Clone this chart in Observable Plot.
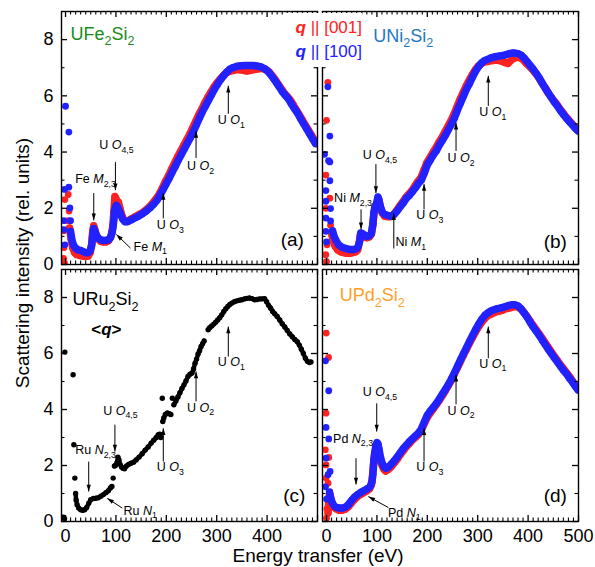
<!DOCTYPE html>
<html><head><meta charset="utf-8">
<script src="https://cdn.jsdelivr.net/npm/d3@7"></script>
<script src="https://cdn.jsdelivr.net/npm/@observablehq/plot@0.6"></script>
<style>
body{margin:0;background:#fff;font-family:"Liberation Sans",Arial,Helvetica,sans-serif}
#chart{position:relative;width:595px;height:567px;overflow:hidden;background:#fff}
#chart svg{position:absolute;left:0;top:0}
#legend{position:absolute;left:284px;top:13px;width:78px;padding:3px 0 3px 0;background:#fff;font-size:17px;line-height:24px;text-align:right;white-space:nowrap}
#ytitle{position:absolute;left:22px;top:263px;transform:translate(-50%,-50%) rotate(-90deg);font-size:19px;line-height:1;white-space:nowrap}
#xtitle{position:absolute;left:318px;top:546px;transform:translateX(-50%);font-size:19px;line-height:1;white-space:nowrap}
</style></head><body><div id="chart">
<div id="legend"><div style="color:#ff2222"><b><i>q</i></b> || [001]</div><div style="color:#2222ff"><b><i>q</i></b> || [100]</div></div>
<div id="ytitle">Scattering intensity (rel. units)</div>
<div id="xtitle">Energy transfer (eV)</div>
</div>
<script>
// ---------- axes ----------
const xDomain = [-8, 500];
const yDomain = [0, 9];
const xTickLabels = [0, 100, 200, 300, 400, 500];
const xTickLabelsC = [0, 100, 200, 300, 400];
const yTickLabels = [0, 2, 4, 6, 8];
const yMinorTicks = [1, 3, 5, 7];

// ---------- (a) UFe2Si2 ----------
const feBlueElastic = [[0,5.63],[6.6,4.71],[-2,2.67],[6.6,2.75],[8.6,2.01],[-3.3,1.56],[10,1.56],[-3.3,1.24],[-1.3,0.7]];
const feRedElastic = [[5.3,2.49],[-1.3,2.31],[5.3,1.56],[7,1.9],[-3.3,1.2],[9,1.25],[-3.3,0.6],[-4,0.22],[-2,0.05]];
const feBlue = [[10,1.18],[13,0.85],[16,0.68],[20,0.58],[25,0.52],[30,0.5],[35,0.46],[40,0.42],[45,0.42],[49,0.5],[52,0.68],[54,1.05],[56,1.28],[58,1.2],[61,1.05],[65,0.94],[70,0.88],[75,0.85],[80,0.86],[85,0.88],[89,0.95],[92,1.1],[94,1.3],[96,1.6],[97,1.9],[99,2.05],[101,2.1],[104,2.02],[107,1.9],[110,1.75],[114,1.6],[118,1.52],[122,1.52],[126,1.55],[132,1.6],[138,1.66],[145,1.72],[152,1.8],[160,1.9],[168,2.02],[175,2.15],[182,2.3],[188,2.48],[194,2.68],[200,2.88],[206,3.08],[212,3.3],[218,3.5],[224,3.72],[230,3.92],[236,4.12],[242,4.32],[248,4.52],[254,4.74],[260,4.98],[266,5.22],[272,5.45],[278,5.65],[284,5.85],[290,6.05],[296,6.25],[302,6.42],[308,6.58],[314,6.72],[320,6.85],[326,6.95],[332,7.0],[340,7.05],[348,7.07],[356,7.08],[364,7.08],[372,7.08],[380,7.06],[388,7.03],[394,6.98],[400,6.9],[406,6.78],[412,6.63],[418,6.48],[424,6.32],[430,6.15],[436,6.02],[442,5.9],[448,5.72],[454,5.55],[460,5.4],[466,5.2],[472,5.02],[478,4.84],[484,4.66],[490,4.48],[496,4.3]];
const feRed = [[8,1.3],[11,0.9],[14,0.6],[18,0.42],[22,0.35],[28,0.32],[34,0.3],[40,0.28],[45,0.3],[49,0.42],[52,0.75],[54,1.2],[56,1.38],[58,1.25],[61,1.05],[65,0.9],[70,0.82],[75,0.8],[80,0.8],[85,0.84],[89,0.95],[92,1.15],[94,1.4],[96,1.9],[98,2.42],[100,2.35],[102,2.25],[105,2.22],[108,2.0],[111,1.8],[115,1.6],[119,1.55],[124,1.55],[130,1.62],[138,1.7],[146,1.78],[154,1.86],[162,1.98],[170,2.12],[178,2.3],[186,2.5],[192,2.72],[198,2.95],[204,3.15],[210,3.38],[216,3.6],[222,3.82],[228,4.02],[234,4.22],[240,4.42],[246,4.62],[252,4.85],[258,5.08],[264,5.32],[270,5.52],[276,5.74],[282,5.94],[288,6.12],[294,6.3],[300,6.45],[306,6.58],[312,6.7],[318,6.8],[324,6.86],[332,6.9],[340,6.93],[350,6.92],[360,6.88],[370,6.92],[380,6.95],[390,6.98],[398,6.92],[404,6.85],[410,6.72],[416,6.58],[422,6.42],[428,6.25],[434,6.1],[440,5.98],[446,5.85],[452,5.68],[458,5.5],[464,5.32],[470,5.14],[476,4.95],[482,4.78],[488,4.6],[494,4.42],[498,4.3]];

// ---------- (b) UNi2Si2 ----------
const niBlueElastic = [[2.6,6.32],[6.6,4.57],[-4,3.92],[6.6,3.65],[4,3.69],[-1.3,2.63],[6.6,2.98],[-1.3,2.25],[8,1.99],[-1.3,1.65],[8,1.55],[-1.3,1.18],[0,0.8]];
const niRedElastic = [[1,9.3],[2.6,6.48],[0,5.13],[-1.3,3.18],[6.6,2.36],[-1.3,2.0],[8,1.4],[1,0.7],[-1.5,0.35],[0,0.1]];
const niBlue = [[12,1.2],[15,1.0],[19,0.85],[24,0.7],[30,0.62],[36,0.58],[42,0.55],[48,0.53],[54,0.53],[60,0.57],[63,0.65],[66,0.85],[68,1.12],[71,1.1],[75,1.05],[80,1.0],[85,1.02],[89,1.1],[92,1.45],[94,1.85],[96,2.05],[99,2.15],[102,2.4],[104,2.3],[107,2.05],[111,1.85],[116,1.78],[122,1.74],[128,1.72],[134,1.78],[140,1.9],[146,2.05],[152,2.18],[158,2.35],[164,2.45],[170,2.58],[176,2.72],[182,2.88],[188,3.0],[194,3.25],[200,3.55],[206,3.72],[212,3.9],[218,4.05],[224,4.25],[230,4.42],[236,4.6],[242,4.8],[248,5.0],[254,5.22],[260,5.5],[266,5.75],[272,6.0],[278,6.25],[284,6.45],[290,6.68],[296,6.88],[302,7.05],[308,7.18],[314,7.26],[320,7.3],[326,7.35],[332,7.38],[338,7.4],[344,7.42],[350,7.44],[356,7.46],[362,7.5],[368,7.52],[374,7.52],[380,7.5],[386,7.45],[392,7.35],[398,7.22],[404,7.08],[410,6.95],[416,6.8],[422,6.64],[428,6.45],[434,6.28],[440,6.1],[446,5.94],[452,5.78],[458,5.64],[464,5.48],[470,5.34],[476,5.2],[482,5.08],[488,4.96],[494,4.84],[499,4.75]];
const niRed = [[10,1.1],[13,0.85],[17,0.65],[22,0.52],[28,0.45],[34,0.42],[40,0.4],[46,0.4],[52,0.42],[58,0.45],[62,0.52],[65,0.8],[67,1.05],[70,1.05],[75,0.98],[80,0.95],[85,0.98],[89,1.08],[92,1.4],[94,1.8],[97,2.1],[100,2.2],[103,2.35],[106,2.1],[110,1.85],[115,1.72],[121,1.7],[127,1.7],[133,1.78],[139,1.92],[145,2.08],[151,2.22],[157,2.38],[163,2.5],[169,2.62],[175,2.78],[181,2.95],[187,3.08],[193,3.35],[199,3.62],[205,3.8],[211,3.98],[217,4.15],[223,4.35],[229,4.52],[235,4.72],[241,4.92],[247,5.12],[253,5.35],[259,5.62],[265,5.88],[271,6.12],[277,6.35],[283,6.55],[289,6.75],[295,6.92],[301,7.06],[307,7.14],[313,7.2],[320,7.22],[328,7.25],[336,7.27],[344,7.25],[352,7.2],[360,7.15],[368,7.3],[376,7.36],[384,7.36],[390,7.28],[396,7.16],[402,7.06],[408,6.95],[414,6.82],[420,6.68],[426,6.5],[432,6.33],[438,6.16],[444,6.0],[450,5.85],[456,5.72],[462,5.56],[468,5.42],[474,5.28],[480,5.15],[486,5.03],[492,4.9],[498,4.8]];

// ---------- (c) URu2Si2 ----------
const ruIsolated = [[-1.3,6.05],[15,5.24],[16.5,2.74],[18.5,1.55],[-4,0.15],[-2,0.1],[94.5,1.55],[192,4.4],[212,4.4]];
const ruSeg1 = [[20,1.0],[21,0.77],[23,0.6],[26,0.48],[30,0.42],[34,0.4],[38,0.42],[42,0.5],[46,0.65],[50,0.78],[55,0.82],[60,0.83],[65,0.85],[70,0.9],[75,0.96],[80,1.03],[85,1.1],[89,1.2],[92,1.25]];
const ruSeg2 = [[97,1.98],[99,2.0],[102,2.1],[104,2.3],[106,2.2],[108,2.05],[111,1.95],[114,1.9],[117,1.88],[121,1.98],[125,2.04],[130,2.08],[135,2.12],[140,2.2],[146,2.3],[152,2.42],[158,2.55],[164,2.66],[170,2.8],[175,2.9],[180,3.0],[184,3.1],[187,3.12],[189,3.0]];
const ruSeg3 = [[193,3.57],[195,3.7],[198,3.82],[202,3.88],[206,3.85],[209,3.82]];
const ruSeg4 = [[215,4.17],[219,4.3],[223,4.45],[227,4.6],[231,4.75],[235,4.88],[239,5.02],[243,5.18],[247,5.26],[251,5.3],[254,5.45],[257,5.65],[260,5.8],[263,5.98],[266,6.1],[269,6.25],[272,6.35],[275,6.45]];
const ruSeg5 = [[283,6.85],[286,6.92],[290,6.98],[294,7.05],[298,7.12],[302,7.2],[306,7.28],[310,7.38],[314,7.5],[318,7.6],[322,7.68],[326,7.75],[330,7.8],[335,7.85],[340,7.88],[345,7.9],[350,7.92],[355,7.95],[360,7.97],[365,7.98],[370,7.96],[375,7.92],[380,7.93],[385,7.95],[390,7.95],[395,7.96],[399,7.85],[403,7.72],[407,7.62],[411,7.5],[415,7.42],[420,7.32],[425,7.2],[430,7.06],[435,6.95],[440,6.82],[445,6.7],[450,6.6],[455,6.5],[460,6.42],[464,6.3],[468,6.15],[472,6.0],[476,5.83],[480,5.72],[484,5.68],[487,5.7]];

// ---------- (d) UPd2Si2 ----------
const pdBlueElastic = [[4.4,4.67],[-2,5.74],[-1,3.36],[4.4,2.95],[-1,2.26],[7,1.79],[-2,1.24],[3,1.67],[0,0.8]];
const pdRedElastic = [[-0.6,6.73],[4,5.86],[-1,3.87],[-2.4,2.56],[4.4,2.29],[-1,2.02],[-1,1.55],[3,1.37],[0,0.12],[1,0.45]];
const pdBlue = [[6,1.05],[8,0.85],[11,0.68],[15,0.56],[20,0.5],[26,0.48],[32,0.48],[38,0.52],[44,0.62],[50,0.76],[56,0.88],[62,0.97],[68,1.04],[74,1.1],[80,1.16],[86,1.24],[90,1.4],[92,1.7],[94,2.2],[96,2.5],[98,2.7],[100,2.82],[102,2.78],[104,2.6],[107,2.3],[110,2.1],[114,1.95],[118,1.9],[123,1.95],[128,2.04],[134,2.16],[140,2.3],[146,2.45],[152,2.6],[158,2.72],[164,2.84],[170,2.95],[176,3.05],[182,3.15],[188,3.3],[194,3.55],[200,3.8],[206,3.95],[212,4.08],[218,4.22],[224,4.38],[230,4.55],[236,4.72],[242,4.9],[248,5.1],[254,5.32],[260,5.55],[266,5.78],[272,6.0],[278,6.22],[284,6.44],[290,6.65],[296,6.86],[302,7.05],[308,7.22],[314,7.36],[320,7.45],[326,7.52],[332,7.56],[338,7.6],[344,7.62],[350,7.65],[356,7.68],[362,7.72],[368,7.74],[374,7.74],[380,7.7],[386,7.6],[392,7.45],[398,7.3],[404,7.12],[410,6.95],[416,6.8],[422,6.65],[428,6.48],[434,6.32],[440,6.15],[446,6.0],[452,5.85],[458,5.7],[464,5.55],[470,5.4],[476,5.28],[482,5.12],[488,4.98],[494,4.82],[499,4.7]];
const pdRed = [[3,0.3],[5,0.9],[7,0.95],[10,0.7],[14,0.52],[19,0.45],[25,0.4],[31,0.4],[37,0.44],[43,0.52],[49,0.65],[55,0.78],[61,0.88],[67,0.96],[73,1.02],[79,1.08],[85,1.16],[89,1.3],[91,1.55],[93,2.0],[95,2.35],[97,2.45],[99,2.55],[101,2.6],[103,2.5],[106,2.25],[109,2.05],[113,1.88],[117,1.8],[122,1.85],[128,1.95],[134,2.08],[140,2.22],[146,2.38],[152,2.52],[158,2.66],[164,2.78],[170,2.9],[176,3.0],[182,3.1],[188,3.25],[194,3.5],[200,3.72],[206,3.88],[212,4.02],[218,4.18],[224,4.33],[230,4.5],[236,4.68],[242,4.86],[248,5.05],[254,5.28],[260,5.5],[266,5.72],[272,5.95],[278,6.16],[284,6.38],[290,6.58],[296,6.78],[302,6.96],[308,7.12],[314,7.25],[320,7.35],[326,7.4],[332,7.45],[338,7.5],[344,7.52],[350,7.55],[356,7.6],[362,7.62],[368,7.65],[374,7.68],[380,7.66],[386,7.58],[392,7.46],[398,7.32],[404,7.16],[410,7.0],[416,6.85],[422,6.7],[428,6.54],[434,6.38],[440,6.22],[446,6.06],[452,5.9],[458,5.75],[464,5.6],[470,5.46],[476,5.32],[482,5.18],[488,5.02],[494,4.88],[499,4.76]];

// ---------- annotations (data units: energy eV, intensity) ----------
const edgesA = [
  {text:"U *O*_{4,5}", x:101, y:4.25, x1:99, y1:3.64, x2:99, y2:2.64},
  {text:"Fe *M*_{2,3}", x:59.5, y:3.04, x1:56, y1:2.54, x2:56, y2:1.57},
  {text:"U *O*_{3}", x:208, y:1.39, x1:194, y1:1.64, x2:194, y2:2.54},
  {text:"U *O*_{2}", x:268, y:3.5, x1:259, y1:3.79, x2:259, y2:4.75},
  {text:"U *O*_{1}", x:329, y:5.14, x1:323, y1:5.36, x2:323, y2:6.36}
];
const sidesA = [{text:"Fe *M*_{1}", x:135, y:0.64, x1:129, y1:0.58, x2:101, y2:1.07}];
const edgesB = [
  {text:"U *O*_{4,5}", x:106, y:3.89, x1:98, y1:3.57, x2:98, y2:2.54},
  {text:"Ni *M*_{2,3}", x:52.6, y:2.36, x1:68.5, y1:1.96, x2:68.5, y2:1.25},
  {text:"U *O*_{3}", x:205, y:1.75, x1:193.5, y1:1.96, x2:193.5, y2:2.86},
  {text:"U *O*_{2}", x:267, y:3.79, x1:257, y1:4.04, x2:257, y2:5.04},
  {text:"U *O*_{1}", x:330, y:5.43, x1:321, y1:5.64, x2:321, y2:6.71}
];
const sidesB = [{text:"Ni *M*_{1}", x:137, y:0.79, x1:133.5, y1:0.57, x2:133.5, y2:1.82}];
const edgesC = [
  {text:"U *O*_{4,5}", x:109, y:3.96, x1:98, y1:3.46, x2:98, y2:2.5},
  {text:"Ru *N*_{2,3}", x:59.5, y:2.54, x1:46, y1:2.14, x2:46, y2:1.07},
  {text:"U *O*_{3}", x:208, y:1.93, x1:194, y1:2.14, x2:194, y2:3.33},
  {text:"U *O*_{2}", x:268, y:4.07, x1:259, y1:4.29, x2:259, y2:5.36},
  {text:"U *O*_{1}", x:329, y:5.68, x1:323, y1:5.89, x2:323, y2:6.96}
];
const sidesC = [{text:"Ru *N*_{1}", x:115, y:0.39, x1:112.5, y1:0.48, x2:82.7, y2:0.83}];
const edgesD = [
  {text:"U *O*_{4,5}", x:106, y:4.61, x1:99.6, y1:4.22, x2:99.6, y2:3.21},
  {text:"Pd *N*_{2,3}", x:52.6, y:2.96, x1:58.5, y1:2.26, x2:58.5, y2:1.32},
  {text:"U *O*_{3}", x:205, y:1.93, x1:193.5, y1:2.14, x2:193.5, y2:3.33},
  {text:"U *O*_{2}", x:267, y:3.96, x1:257, y1:4.18, x2:257, y2:5.24},
  {text:"U *O*_{1}", x:330, y:5.64, x1:321, y1:5.83, x2:321, y2:6.96}
];
const sidesD = [{text:"Pd *N*_{1}", x:122, y:0.32, x1:122.6, y1:0.5, x2:83, y2:0.89}];

const titles = {
  a: {text:"UFe_{2}Si_{2}", x:10, y:8.2},
  b: {text:"UNi_{2}Si_{2}", x:92.6, y:8.12},
  c: {text:"URu_{2}Si_{2}", x:13.8, y:7.93},
  d: {text:"UPd_{2}Si_{2}", x:26.3, y:8.07}
};
const tags = {
  a: {text:"(a)", x:450, y:0.89},
  b: {text:"(b)", x:454, y:0.82},
  c: {text:"(c)", x:454, y:0.93},
  d: {text:"(d)", x:454, y:0.93}
};
const qNote = [{text:"<*q*>", x:81, y:6.86}];

// ---------- styles ----------
const RED = "#ff2222", BLUE = "#2222ff", BLACK = "#000000";
const FONT = "'Liberation Sans', Arial, Helvetica, sans-serif";

const panels = [
  {id:"a", L:61, R:317, T:11, B:264, xLabels:null, showY:true, titleColor:"#1a8c1a",
   series:[{color:RED, bands:[feRed], pts:feRedElastic, lw:7.5, r:3.4},{color:BLUE, bands:[feBlue], pts:feBlueElastic, lw:7.5, r:3.4}],
   edges:edgesA, sides:sidesA},
  {id:"b", L:322, R:578, T:11, B:264, xLabels:null, showY:false, titleColor:"#1f78c2",
   series:[{color:RED, bands:[niRed], pts:niRedElastic, lw:7.5, r:3.4},{color:BLUE, bands:[niBlue], pts:niBlueElastic, lw:7.5, r:3.4}],
   edges:edgesB, sides:sidesB},
  {id:"c", L:61, R:317, T:269, B:521, xLabels:xTickLabelsC, showY:true, titleColor:"#000000",
   series:[{color:BLACK, bands:[ruSeg1,ruSeg2,ruSeg3,ruSeg4,ruSeg5], pts:ruIsolated, lw:4.4, r:2.7}],
   edges:edgesC, sides:sidesC, extra:qNote},
  {id:"d", L:322, R:578, T:269, B:521, xLabels:xTickLabels, showY:false, titleColor:"#ff9f2a",
   series:[{color:RED, bands:[pdRed], pts:pdRedElastic, lw:7.5, r:3.4},{color:BLUE, bands:[pdBlue], pts:pdBlueElastic, lw:7.5, r:3.4}],
   edges:edgesD, sides:sidesD}
];

function headSymbol(angle) {
  const a = angle * Math.PI / 180, c = Math.cos(a), s = Math.sin(a);
  return {draw(ctx, size) {
    const r = Math.sqrt(size / Math.PI), h = 2.7 * r, w = 0.85 * r;
    const p = [[0,0],[-w,h],[w,h]].map(([x,y]) => [x*c - y*s, x*s + y*c]);
    ctx.moveTo(p[0][0], p[0][1]); ctx.lineTo(p[1][0], p[1][1]); ctx.lineTo(p[2][0], p[2][1]); ctx.closePath();
  }};
}

function richify(svg) {
  const NS = "http://www.w3.org/2000/svg";
  svg.querySelectorAll("text").forEach(t => {
    const s = t.textContent;
    if (!/[*_]/.test(s)) return;
    const fs = parseFloat(getComputedStyle(t).fontSize) || 13;
    while (t.firstChild) t.removeChild(t.firstChild);
    const re = /\*([^*]+)\*|_\{([^}]+)\}|([^*_]+)/g;
    let m, shift = 0;
    while ((m = re.exec(s))) {
      const ts = document.createElementNS(NS, "tspan");
      let target = 0;
      if (m[1] !== undefined) { ts.textContent = m[1]; ts.setAttribute("font-style", "italic"); }
      else if (m[2] !== undefined) { ts.textContent = m[2]; ts.setAttribute("font-size", (fs * 0.7).toFixed(2)); target = fs * 0.3; }
      else ts.textContent = m[3];
      if (target !== shift) { ts.setAttribute("dy", (target - shift).toFixed(2)); shift = target; }
      t.appendChild(ts);
    }
  });
}

const chart = document.getElementById("chart");
const X = d => d[0], Y = d => d[1];
const xMinor = d3.range(10, 500, 10).filter(v => v % 100 !== 0);
const TICK = "#000000";

for (const p of panels) {
  const W = p.R - p.L, H = p.B - p.T;
  const kx = W / (xDomain[1] - xDomain[0]);
  const ky = H / (yDomain[1] - yDomain[0]);
  const marks = [];
  for (const s of p.series) {
    for (const band of s.bands) {
      marks.push(Plot.line(band, {x: X, y: Y, stroke: s.color, strokeWidth: s.lw, strokeLinejoin: "round", strokeLinecap: "round", clip: true}));
      marks.push(Plot.dot(band, {x: X, y: Y, r: s.r, fill: s.color, clip: true}));
    }
    marks.push(Plot.dot(s.pts, {x: X, y: Y, r: s.r, fill: s.color, clip: true}));
  }
  const notes = p.edges.concat(p.sides);
  marks.push(Plot.link(notes, {x1: "x1", y1: "y1", x2: "x2", y2: "y2", stroke: "black", strokeWidth: 1}));
  for (const n of notes) {
    const dxp = (n.x2 - n.x1) * kx, dyp = -(n.y2 - n.y1) * ky;
    const ang = Math.atan2(dxp, -dyp) * 180 / Math.PI;
    marks.push(Plot.dot([n], {x: "x2", y: "y2", r: 2.5, fill: "black", symbol: headSymbol(ang)}));
  }
  marks.push(Plot.text(p.edges, {x: "x", y: "y", text: "text", fontSize: 12.5, textAnchor: "middle", fill: "black"}));
  marks.push(Plot.text(p.sides, {x: "x", y: "y", text: "text", fontSize: 12.5, textAnchor: "start", fill: "black"}));
  marks.push(Plot.text([titles[p.id]], {x: "x", y: "y", text: "text", fontSize: 18, textAnchor: "start", fill: p.titleColor}));
  marks.push(Plot.text([tags[p.id]], {x: "x", y: "y", text: "text", fontSize: 19, textAnchor: "middle", fill: "black"}));
  if (p.extra) marks.push(Plot.text(p.extra, {x: "x", y: "y", text: "text", fontSize: 17, fontWeight: "bold", textAnchor: "middle", fill: "black"}));
  marks.push(Plot.frame({stroke: "black", strokeWidth: 1.4}));
  // inward ticks as short rules, lengths converted from pixels to data units
  const x0 = xDomain[0], x9 = xDomain[1], y0 = yDomain[0], y9 = yDomain[1];
  for (const [vals, len, sw] of [[xTickLabels, 6, 1.3], [xMinor, 3.5, 1.1]]) {
    marks.push(Plot.ruleX(vals, {x: d => d, y1: y0, y2: y0 + len / ky, stroke: TICK, strokeWidth: sw}));
    marks.push(Plot.ruleX(vals, {x: d => d, y1: y9, y2: y9 - len / ky, stroke: TICK, strokeWidth: sw}));
  }
  for (const [vals, len, sw] of [[yTickLabels, 6, 1.3], [yMinorTicks, 3.5, 1.1]]) {
    marks.push(Plot.ruleY(vals, {y: d => d, x1: x0, x2: x0 + len / kx, stroke: TICK, strokeWidth: sw}));
    marks.push(Plot.ruleY(vals, {y: d => d, x1: x9, x2: x9 - len / kx, stroke: TICK, strokeWidth: sw}));
  }
  marks.push(p.xLabels
    ? Plot.axisX(p.xLabels, {anchor: "bottom", tickSize: 0, tickPadding: 8, label: null, fontSize: 18, fill: "black"})
    : Plot.axisX([], {anchor: "bottom", tickSize: 0, label: null}));
  marks.push(p.showY
    ? Plot.axisY(yTickLabels, {anchor: "left", tickSize: 0, tickPadding: 8, label: null, fontSize: 18, fill: "black"})
    : Plot.axisY([], {anchor: "left", tickSize: 0, label: null}));

  const svg = Plot.plot({
    width: 595, height: 567,
    marginLeft: p.L, marginRight: 595 - p.R, marginTop: p.T, marginBottom: 567 - p.B,
    x: {domain: xDomain},
    y: {domain: yDomain},
    style: {background: "none", fontFamily: FONT, overflow: "visible", color: "black"},
    marks
  });
  chart.insertBefore(svg, document.getElementById("legend"));
  richify(svg);
}
</script></body></html>
